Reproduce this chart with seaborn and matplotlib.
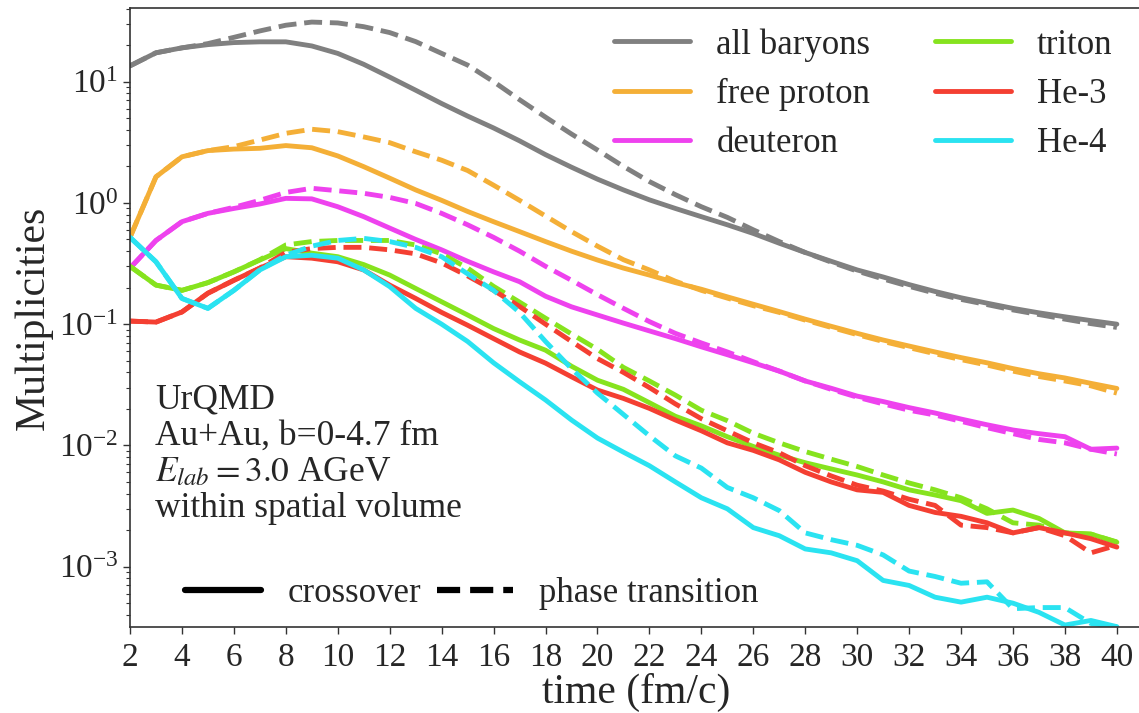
import numpy as np
import pandas as pd
import matplotlib
matplotlib.use("Agg")
import matplotlib.pyplot as plt
from matplotlib.lines import Line2D
import seaborn as sns

# ---------------------------------------------------------------- data
time = list(range(2, 41))

baryons_cross = [13.5, 17.3, 19.0, 20.2, 21.0, 21.3, 21.3, 19.7, 17.1, 13.9,
                 10.9, 8.5, 6.6, 5.2, 4.15, 3.25, 2.5, 1.97, 1.57, 1.28,
                 1.06, 0.9, 0.77, 0.66, 0.56, 0.465, 0.39, 0.33, 0.28, 0.245,
                 0.212, 0.186, 0.165, 0.149, 0.135, 0.124, 0.115, 0.107, 0.1]
baryons_pt = [13.5, 17.3, 19.0, 20.6, 23.2, 26.2, 29.2, 31.0, 30.5, 28.4,
              25.4, 21.4, 17.1, 13.7, 10.0, 7.1, 5.1, 3.7, 2.73, 2.0,
              1.5, 1.17, 0.93, 0.76, 0.6, 0.48, 0.39, 0.325, 0.274, 0.236,
              0.205, 0.18, 0.16, 0.145, 0.131, 0.12, 0.11, 0.101, 0.094]

proton_cross = [0.52, 1.64, 2.4, 2.7, 2.78, 2.82, 2.97, 2.85, 2.44, 1.99,
                1.6, 1.28, 1.05, 0.85, 0.70, 0.58, 0.48, 0.40, 0.338, 0.29,
                0.254, 0.22, 0.194, 0.168, 0.146, 0.127, 0.11, 0.096, 0.084, 0.074,
                0.066, 0.059, 0.053, 0.048, 0.043, 0.039, 0.036, 0.0325, 0.0295]
proton_pt = [0.52, 1.64, 2.4, 2.7, 2.91, 3.3, 3.75, 4.05, 3.87, 3.5,
             3.14, 2.64, 2.25, 1.85, 1.4, 1.05, 0.78, 0.58, 0.44, 0.34,
             0.28, 0.226, 0.19, 0.164, 0.142, 0.125, 0.108, 0.094, 0.082, 0.072,
             0.064, 0.057, 0.051, 0.046, 0.041, 0.037, 0.034, 0.031, 0.027]

deuteron_cross = [0.29, 0.49, 0.70, 0.82, 0.90, 0.98, 1.09, 1.08, 0.93, 0.77,
                  0.62, 0.50, 0.41, 0.33, 0.27, 0.224, 0.17, 0.139, 0.119, 0.102,
                  0.088, 0.076, 0.065, 0.056, 0.048, 0.041, 0.034, 0.0296, 0.0255, 0.023,
                  0.0205, 0.0185, 0.0165, 0.0148, 0.0134, 0.0125, 0.0118, 0.0093, 0.0095]
deuteron_pt = [0.29, 0.49, 0.70, 0.82, 0.92, 1.05, 1.22, 1.32, 1.26, 1.2,
               1.11, 0.99, 0.82, 0.66, 0.52, 0.40, 0.30, 0.23, 0.175, 0.135,
               0.105, 0.084, 0.07, 0.059, 0.049, 0.041, 0.034, 0.029, 0.025, 0.022,
               0.0195, 0.0178, 0.0158, 0.014, 0.0125, 0.0112, 0.0105, 0.0093, 0.0085]

triton_cross = [0.30, 0.21, 0.19, 0.22, 0.27, 0.338, 0.42, 0.385, 0.36, 0.31,
                0.254, 0.197, 0.153, 0.119, 0.092, 0.074, 0.061, 0.045, 0.0345, 0.029,
                0.0225, 0.0174, 0.0145, 0.0118, 0.0098, 0.0083, 0.0072, 0.0064, 0.0057, 0.005,
                0.0043, 0.0039, 0.0035, 0.00275, 0.00293, 0.0025, 0.0019, 0.00186, 0.00159]
triton_pt = [0.30, 0.21, 0.19, 0.22, 0.27, 0.34, 0.45, 0.48, 0.49, 0.49,
             0.49, 0.45, 0.38, 0.29, 0.205, 0.152, 0.112, 0.083, 0.062, 0.044,
             0.034, 0.026, 0.0195, 0.016, 0.0126, 0.0105, 0.0089, 0.0077, 0.0067, 0.0057,
             0.0049, 0.0043, 0.0037, 0.003, 0.0023, 0.0022, 0.0019, 0.00185, 0.0016]

he3_cross = [0.106, 0.104, 0.126, 0.18, 0.23, 0.29, 0.36, 0.35, 0.327, 0.28,
             0.21, 0.163, 0.125, 0.098, 0.076, 0.059, 0.0477, 0.0368, 0.0286, 0.0244,
             0.0202, 0.0162, 0.0132, 0.0105, 0.0091, 0.0076, 0.006, 0.005, 0.0043, 0.0041,
             0.0032, 0.0028, 0.0026, 0.0023, 0.0019, 0.0021, 0.0019, 0.0017, 0.00145]
he3_pt = [0.106, 0.104, 0.126, 0.18, 0.23, 0.29, 0.39, 0.42, 0.43, 0.43,
          0.41, 0.38, 0.32, 0.25, 0.19, 0.14, 0.1, 0.072, 0.052, 0.04,
          0.03, 0.022, 0.0166, 0.0132, 0.0105, 0.0087, 0.0068, 0.0056, 0.0047, 0.0042,
          0.0036, 0.0032, 0.0022, 0.0021, 0.0019, 0.0021, 0.0018, 0.0013, 0.0015]

he4_cross = [0.52, 0.327, 0.163, 0.135, 0.19, 0.28, 0.36, 0.37, 0.35, 0.28,
             0.204, 0.135, 0.1, 0.072, 0.048, 0.0335, 0.0237, 0.0162, 0.0115, 0.0088,
             0.0068, 0.005, 0.0037, 0.003, 0.0021, 0.0018, 0.0014, 0.0013, 0.00112, 0.00077,
             0.0007, 0.00056, 0.00051, 0.00056, 0.0005, 0.00042, 0.00033, 0.00036, 0.00032]
he4_pt = [0.52, 0.327, 0.163, 0.135, 0.19, 0.28, 0.37, 0.44, 0.49, 0.51,
          0.48, 0.43, 0.36, 0.26, 0.19, 0.125, 0.072, 0.043, 0.027, 0.018,
          0.012, 0.0082, 0.0065, 0.0045, 0.0037, 0.0029, 0.0019, 0.00167, 0.0015, 0.00125,
          0.00092, 0.00083, 0.00073, 0.00075, 0.00045, 0.00046, 0.00046, 0.00034, 0.00032]

species = ["all baryons", "free proton", "deuteron", "triton", "He-3", "He-4"]
scenarios = ["crossover", "phase transition"]
colors = ["#808080", "#F4AF37", "#EE42EE", "#86E31E", "#F43F32", "#2AE3F1"]

series = {
    "all baryons": (baryons_cross, baryons_pt),
    "free proton": (proton_cross, proton_pt),
    "deuteron": (deuteron_cross, deuteron_pt),
    "triton": (triton_cross, triton_pt),
    "He-3": (he3_cross, he3_pt),
    "He-4": (he4_cross, he4_pt),
}

rows = []
for sp in species:
    for sc, vals in zip(scenarios, series[sp]):
        for t, v in zip(time, vals):
            rows.append({"time": t, "mult": v, "species": sp, "scenario": sc})
df = pd.DataFrame(rows)

# ---------------------------------------------------------------- style
sns.set_theme(style="ticks")
plt.rcParams["font.family"] = ["Liberation Serif", "DejaVu Serif"]
plt.rcParams["mathtext.fontset"] = "stix"
plt.rcParams["axes.edgecolor"] = "#333333"

W, H = 1139, 713
fig = plt.figure(figsize=(W / 100, H / 100), dpi=100)
ax = fig.add_axes([130 / W, (H - 627) / H, (1142 - 130) / W, (627 - 8) / H])
ax.set_yscale("log")

palette = dict(zip(species, colors))
lw = 3.5
sns.lineplot(data=df, x="time", y="mult", hue="species", style="scenario",
             hue_order=species, style_order=scenarios, palette=palette,
             dashes={"crossover": "", "phase transition": (3.7, 1.6)},
             linewidth=lw, estimator=None, sort=False, legend=False, ax=ax)

ax.set_xlim(2, 2 + (1142 - 130) / 25.97)
ax.set_ylim(3.18e-4, 40.5)
ax.set_xticks(np.arange(2, 41, 2))
ax.tick_params(axis="both", which="major", labelsize=24, length=5, width=1,
               direction="out", color="#333333")
ax.tick_params(axis="x", which="major", pad=6)
ax.tick_params(axis="y", which="minor", length=3, width=0.8, color="#333333")
ax.tick_params(axis="x", which="minor", bottom=False)
for s in ["left", "bottom", "top"]:
    ax.spines[s].set_linewidth(1.2)
ax.spines["right"].set_visible(False)

ax.set_xlabel("time (fm/c)", fontsize=30, labelpad=0)
ax.set_ylabel("Multiplicities", fontsize=30, labelpad=4)

# species legend
sp_handles = [Line2D([], [], color=c, lw=lw) for c in colors]
leg1 = ax.legend(sp_handles, species, ncol=2, frameon=False, fontsize=25,
                 loc="upper left", bbox_to_anchor=(614 / W, 1 - 28 / H),
                 bbox_transform=fig.transFigure, borderpad=0, borderaxespad=0,
                 handlelength=2.2, handletextpad=0.75, columnspacing=1.85,
                 labelspacing=0.47)
ax.add_artist(leg1)

# scenario legend
sc_handles = [Line2D([], [], color="black", lw=4.5),
              Line2D([], [], color="black", lw=4.5, ls=(0, (3.7, 1.6)))]
ax.legend(sc_handles, scenarios, ncol=2, frameon=False, fontsize=25,
          loc="upper left", bbox_to_anchor=(185 / W, 1 - 577 / H),
          bbox_transform=fig.transFigure, borderpad=0, borderaxespad=0,
          handlelength=2.2, handletextpad=0.75, columnspacing=0.45)

# annotation block
notes = ["UrQMD", "Au+Au, b=0-4.7 fm", r"$E_{lab}=3.0$ AGeV", "within spatial volume"]
baselines = [408, 445, 481, 517]
for txt, yb in zip(notes, baselines):
    fig.text(155 / W, 1 - yb / H, txt, fontsize=25.5, va="baseline", ha="left")

fig.savefig("out.png", dpi=100)
